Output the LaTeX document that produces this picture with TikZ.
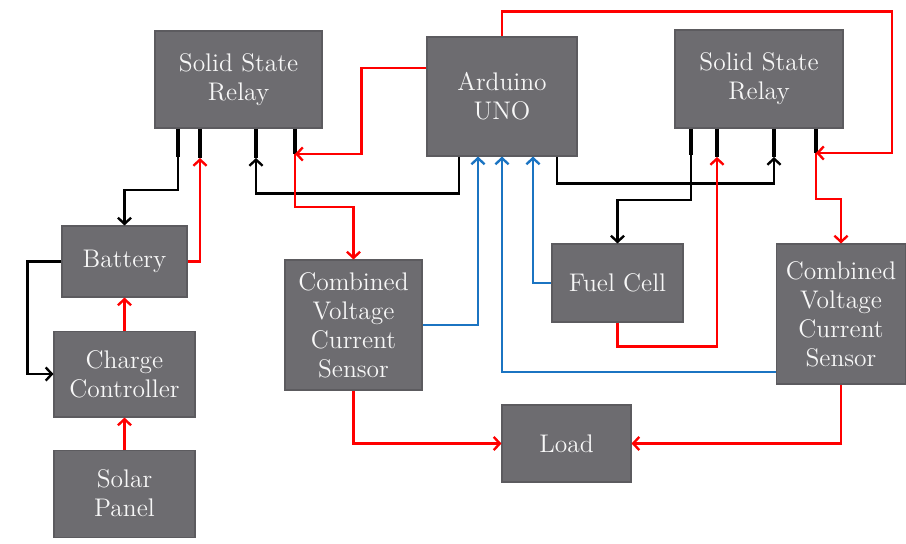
\documentclass[tikz,border=0pt]{standalone}
\usepackage{xcolor}
\usepackage{tikz}
\usetikzlibrary{
  arrows.meta,
  positioning,
  calc
}
\definecolor{caixacinza}{HTML}{6D6C70}
\definecolor{bordacinza}{HTML}{5C5B5F}
\definecolor{azulfio}{HTML}{1B74C2}

\begin{document}
\begin{tikzpicture}[
x=0.02cm,y=-0.02cm,
block/.style={
draw=bordacinza,
fill=caixacinza,
line width=0.6pt,
align=center,
text=white!94!gray,
font=\fontsize{14.5}{16.5}\selectfont
},
stub/.style={line width=2pt,black},
wire/.style={-{Straight Barb[length=3.5pt,width=7.5pt]},line width=1.35pt},
blackwire/.style={wire,black},
redwire/.style={wire,red},
bluewire/.style={wire,azulfio}
]
\useasboundingbox (0,0) rectangle (906,544);

\node[block,minimum width=3.34cm,minimum height=1.94cm] (ssrA) at (238.5,79.5)
{Solid State\\Relay};
\node[block,minimum width=3cm,minimum height=2.38cm] (uno) at (502,96.5)
{Arduino\\UNO};
\node[block,minimum width=3.36cm,minimum height=1.96cm] (ssrB) at (759,79)
{Solid State\\Relay};

\node[block,minimum width=2.5cm,minimum height=1.42cm] (bat) at (124.5,261.5)
{Battery};
\node[block,minimum width=2.82cm,minimum height=1.72cm,below=0.66cm of bat] (cc)
{Charge\\Controller};
\node[block,minimum width=2.82cm,minimum height=1.74cm,below=0.64cm of cc] (solar)
{Solar\\Panel};

\node[block,minimum width=2.74cm,minimum height=2.6cm] (cvA) at (353.5,325)
{Combined\\Voltage\\Current\\Sensor};
\node[block,minimum width=2.62cm,minimum height=1.56cm] (fc) at (617.5,283)
{Fuel Cell};
\node[block,minimum width=2.58cm,minimum height=2.8cm] (cvB) at (841,314)
{Combined\\Voltage\\Current\\Sensor};
\node[block,minimum width=2.58cm,minimum height=1.54cm] (load) at (566.5,443.5)
{Load};

% relay terminals
\coordinate (pA1) at (178,157);
\coordinate (pA2) at (200,158);
\coordinate (pA3) at (256,158);
\coordinate (pA4) at (295,154);
\coordinate (pB1) at (691,155);
\coordinate (pB2) at (717,157);
\coordinate (pB3) at (774,157);
\coordinate (pB4) at (816,153);
\foreach \p in {pA1,pA2,pA3,pA4}
  \draw[stub] (\p |- ssrA.south) -- (\p);
\foreach \p in {pB1,pB2,pB3,pB4}
  \draw[stub] (\p |- ssrB.south) -- (\p);

% left relay
\draw[blackwire] (pA1) -- ++(0,33) -| (bat.north);
\draw[redwire] (bat.east) -| (pA2);
\draw[blackwire] ([xshift=-0.86cm]uno.south) -- ++(0,37) -| (pA3);
\draw[redwire] ([yshift=0.57cm]uno.west) -- ++(-65,0) |- (pA4);
\draw[redwire] (pA4) -- ++(0,53) -| (cvA.north);

% right relay
\draw[blackwire] ([xshift=1.1cm]uno.south) -- ++(0,27) -| (pB3);
\draw[blackwire] (pB1) -- ++(0,45) -| (fc.north);
\draw[redwire] (fc.south) -- ++(0,24) -| (pB2);
\draw[redwire] (uno.north) -- ++(0,-25) -| ([xshift=1.52cm]pB4) -- (pB4);
\draw[redwire] (pB4) -- ++(0,46) -| (cvB.north);

% sensors
\draw[bluewire] (cvA.east) -| ([xshift=-0.48cm]uno.south);
\draw[bluewire] ([yshift=-1.16cm]cvB.west) -| (uno.south);
\draw[bluewire] (fc.west) -| ([xshift=0.62cm]uno.south);
\draw[redwire] (cvA.south) |- (load.west);
\draw[redwire] (cvB.south) |- (load.east);

% solar side
\draw[blackwire] (bat.west) -- ++(-34,0) |- (cc.west);
\draw[redwire] (cc.north) -- (cc.north |- bat.south);
\draw[redwire] (solar.north) -- (cc.south);

\end{tikzpicture}
\end{document}
